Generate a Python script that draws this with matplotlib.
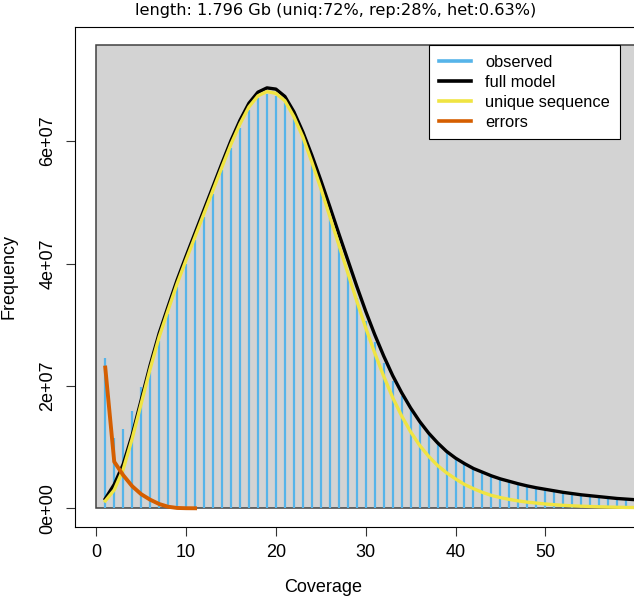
import matplotlib
matplotlib.use("Agg")
import matplotlib.pyplot as plt
from matplotlib.lines import Line2D
from matplotlib.patches import Rectangle
import numpy as np

# k-mer coverage histogram (observed) and model fits
coverage = np.arange(1, 61)
observed = np.array([
    2.45e7, 1.15e7, 1.30e7, 1.59e7, 1.99e7, 2.22e7, 2.74e7, 3.18e7, 3.61e7, 4.00e7,
    4.38e7, 4.76e7, 5.14e7, 5.52e7, 5.89e7, 6.22e7, 6.51e7, 6.70e7, 6.77e7, 6.74e7,
    6.62e7, 6.36e7, 6.03e7, 5.63e7, 5.21e7, 4.75e7, 4.31e7, 3.87e7, 3.44e7, 3.06e7,
    2.71e7, 2.38e7, 2.08e7, 1.83e7, 1.60e7, 1.40e7, 1.22e7, 1.06e7, 9.2e6, 8.1e6,
    7.2e6, 6.4e6, 5.8e6, 5.2e6, 4.7e6, 4.3e6, 3.9e6, 3.55e6, 3.25e6, 3.0e6,
    2.75e6, 2.5e6, 2.3e6, 2.1e6, 1.95e6, 1.8e6, 1.65e6, 1.5e6, 1.4e6, 1.3e6,
])

model_cov = np.arange(1, 63)
full_model = np.array([
    1.55e6, 3.9e6, 7.2e6, 1.20e7, 1.77e7, 2.34e7, 2.86e7, 3.30e7, 3.73e7, 4.12e7,
    4.50e7, 4.88e7, 5.26e7, 5.64e7, 6.01e7, 6.34e7, 6.62e7, 6.80e7, 6.87e7, 6.85e7,
    6.73e7, 6.48e7, 6.15e7, 5.77e7, 5.36e7, 4.93e7, 4.49e7, 4.06e7, 3.63e7, 3.22e7,
    2.84e7, 2.49e7, 2.17e7, 1.89e7, 1.64e7, 1.42e7, 1.23e7, 1.07e7, 9.3e6, 8.2e6,
    7.3e6, 6.5e6, 5.9e6, 5.3e6, 4.8e6, 4.4e6, 4.0e6, 3.65e6, 3.35e6, 3.1e6,
    2.85e6, 2.6e6, 2.4e6, 2.2e6, 2.05e6, 1.9e6, 1.75e6, 1.6e6, 1.5e6, 1.4e6,
    1.3e6, 1.2e6,
])
unique_seq = np.array([
    1.2e6, 3.0e6, 6.4e6, 1.14e7, 1.71e7, 2.28e7, 2.80e7, 3.24e7, 3.67e7, 4.06e7,
    4.44e7, 4.82e7, 5.20e7, 5.58e7, 5.95e7, 6.28e7, 6.56e7, 6.74e7, 6.81e7, 6.78e7,
    6.66e7, 6.40e7, 6.07e7, 5.66e7, 5.23e7, 4.77e7, 4.31e7, 3.85e7, 3.39e7, 2.95e7,
    2.54e7, 2.16e7, 1.81e7, 1.51e7, 1.25e7, 1.03e7, 8.5e6, 7.0e6, 5.8e6, 4.8e6,
    3.9e6, 3.2e6, 2.6e6, 2.1e6, 1.75e6, 1.45e6, 1.2e6, 1.0e6, 8.5e5, 7.0e5,
    5.8e5, 4.8e5, 4.0e5, 3.4e5, 2.9e5, 2.4e5, 2.0e5, 1.7e5, 1.4e5, 1.2e5,
    1.0e5, 8e4,
])

error_cov = np.arange(1, 12)
errors = np.array([2.30e7, 7.6e6, 5.4e6, 3.6e6, 2.3e6, 1.4e6, 7e5, 2.5e5, 5e4, 1e4, 0])

title = "length: 1.796 Gb (uniq:72%, rep:28%, het:0.63%)"
xticks = [0, 10, 20, 30, 40, 50]
yticks = [0, 2e7, 4e7, 6e7]
ytick_labels = ["0e+00", "2e+07", "4e+07", "6e+07"]
legend_labels = ["observed", "full model", "unique sequence", "errors"]

c_obs = "#56B4E9"
c_full = "black"
c_uniq = "#F0E442"
c_err = "#D55E00"

W, H = 634, 599
fig = plt.figure(figsize=(W / 100, H / 100), dpi=100)
ax = fig.add_axes([75 / W, 72 / H, 570 / W, 499.7 / H])
ax.set_xlim(-2.37, 61.1)
ax.set_ylim(-3.06e6, 7.86e7)

font = "Liberation Sans"

ax.add_patch(Rectangle((0, 0), 80, 7.57e7, facecolor="#D3D3D3",
                       edgecolor="#404040", lw=1.1, zorder=1))
ax.vlines(coverage, 0, observed, color=c_obs, lw=1.6, zorder=2)
ax.plot(model_cov, full_model, color=c_full, lw=2.4, zorder=3,
        solid_joinstyle="round")
ax.plot(model_cov, unique_seq, color=c_uniq, lw=2.4, zorder=3,
        solid_joinstyle="round")
ax.plot(error_cov, errors, color=c_err, lw=2.8, zorder=4,
        solid_joinstyle="round")

for s in ax.spines.values():
    s.set_linewidth(0.8)
ax.set_xticks(xticks)
ax.set_xticklabels([str(t) for t in xticks], fontfamily=font, fontsize=13)
ax.set_yticks(yticks)
ax.set_yticklabels(ytick_labels, fontfamily=font, fontsize=13,
                   rotation=90, va="center")
ax.tick_params(direction="out", length=6.5, width=0.8, color="#333333")
ax.tick_params(axis="x", pad=6)
ax.tick_params(axis="y", pad=7)

handles = [Line2D([], [], color=c, lw=2.6) for c in (c_obs, c_full, c_uniq, c_err)]
leg = ax.legend(handles, legend_labels, loc="upper right",
                bbox_to_anchor=(620 / W, 1 - 45 / H), bbox_transform=fig.transFigure,
                prop={"family": font, "size": 11.8}, fancybox=False, framealpha=1,
                edgecolor="black", handlelength=2.0, handletextpad=0.85,
                labelspacing=0.3, borderpad=0.6, borderaxespad=0)
leg.get_frame().set_linewidth(0.8)
leg.set_zorder(5)

fig.text(336 / W, 1 - 10 / H, title, ha="center", va="center",
         fontfamily="DejaVu Sans", fontsize=11.6)
fig.text(323 / W, 1 - 588 / H, "Coverage", ha="center", va="center",
         fontfamily=font, fontsize=13)
fig.text(9 / W, 1 - 277 / H, "Frequency", ha="center", va="center",
         rotation=90, fontfamily=font, fontsize=13)

fig.savefig("out.png", dpi=100)
